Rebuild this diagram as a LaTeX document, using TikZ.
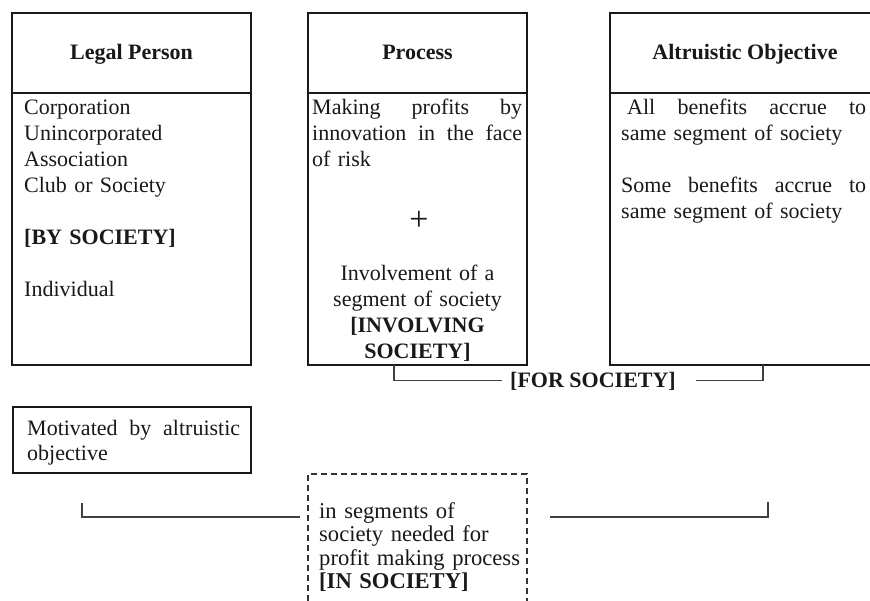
\documentclass[tikz,border=0pt]{standalone}
\usepackage{fontspec}
\setmainfont{Liberation Serif}
\newcommand\jline[2]{\makebox[#1][s]{\spaceskip=0pt\xspaceskip=0pt #2}}
\begin{document}
\begin{tikzpicture}[x=1pt,y=-1pt,
  boxframe/.style={draw=black!90,line width=2.8pt,inner sep=0pt,outer sep=0pt,anchor=north west},
  divider/.style={draw=black!90,line width=2.2pt},
  dashframe/.style={draw=black!80,line width=1.3pt,dash pattern=on 6pt off 4pt,inner sep=0pt,outer sep=0pt,anchor=north west},
  bracket/.style={draw=black!75,line width=1.3pt},
  head/.style={font=\fontsize{22}{26}\selectfont\bfseries,inner sep=0pt,anchor=base,text=black!90},
  body/.style={font=\fontsize{22}{26}\selectfont,inner sep=0pt,anchor=base west,align=left,text=black!90},
  cbody/.style={font=\fontsize{22}{26}\selectfont,inner sep=0pt,anchor=base,align=center,text=black!90},
  ]
\useasboundingbox (0,0) rectangle (870,601);
\clip (0,0) rectangle (870,601);
\fill[white] (0,0) rectangle (870,601);

% main boxes
\node[boxframe,minimum width=239pt,minimum height=352pt] (lp) at (12,13) {};
\node[boxframe,minimum width=219pt,minimum height=352pt] (pr) at (308,13) {};
\node[boxframe,minimum width=270pt,minimum height=352pt] (ao) at (610,13) {};
\draw[divider] ([yshift=-80pt]lp.north west) -- ([yshift=-80pt]lp.north east);
\draw[divider] ([yshift=-80pt]pr.north west) -- ([yshift=-80pt]pr.north east);
\draw[divider] ([yshift=-80pt]ao.north west) -- ([yshift=-80pt]ao.north east);

% headers
\node[head] (lph) at (131.5,60) {Legal Person};
\node[head] (prh) at (417.5,60) {Process};
\node[head] (aoh) at (745,60) {Altruistic Objective};

% Legal Person body
\node[body,text width=220pt] (lpb) at (24,115)
  {Corporation\\Unincorporated\\Association\\Club or Society\\[26pt]\textbf{[BY SOCIETY]}\\[26pt]Individual};

% Process body
\node[body,text width=210pt] (prb1) at (312,115)
  {\jline{210pt}{Making profits by}\\\jline{210pt}{innovation in the face}\\of risk};
\node[inner sep=0pt,anchor=base,text=black!90,font=\fontsize{34}{34}\selectfont] (plus) at (419,231) {+};
\node[cbody,text width=210pt] (prb2) at (417.5,281)
  {Involvement of a\\segment of society\\\textbf{[INVOLVING}\\\textbf{SOCIETY]}};

% Altruistic objective body
\node[body,text width=245pt] (aob) at (621,115)
  {\jline{245pt}{\hspace*{6pt}All benefits accrue to}\\same segment of society\\[26pt]\jline{245pt}{Some benefits accrue to}\\same segment of society};

% FOR SOCIETY bracket
\node[head,anchor=base west] (fs) at (510,388) {[FOR SOCIETY]};
\draw[bracket] ([xshift=86pt]pr.south west) |- ([xshift=-8pt,yshift=1.5pt]fs.west);
\draw[bracket] ([xshift=20pt,yshift=1.5pt]fs.east) -| ([xshift=153pt]ao.south west);

% Motivated box
\node[boxframe,minimum width=238pt,minimum height=66pt] (mo) at (13,407) {};
\node[body,text width=213pt,font=\fontsize{22}{25}\selectfont] (mob) at (27,435)
  {\jline{213pt}{Motivated by altruistic}\\objective};

% dashed box
\node[dashframe,minimum width=219pt,minimum height=141pt] (sc) at (308,474) {};
\node[body,text width=205pt,font=\fontsize{22.6}{23.5}\selectfont] (scb) at (319,518)
  {in segments of\\society needed for\\profit making process\\\textbf{[IN SOCIETY]}};

% bottom bracket
\coordinate (bl) at (82,503);
\coordinate (br) at (768,502);
\draw[bracket] (bl) |- ([xshift=-19pt,yshift=1pt]scb.base west);
\draw[bracket] ([xshift=231pt,yshift=1pt]scb.base west) -| (br);
\end{tikzpicture}
\end{document}
